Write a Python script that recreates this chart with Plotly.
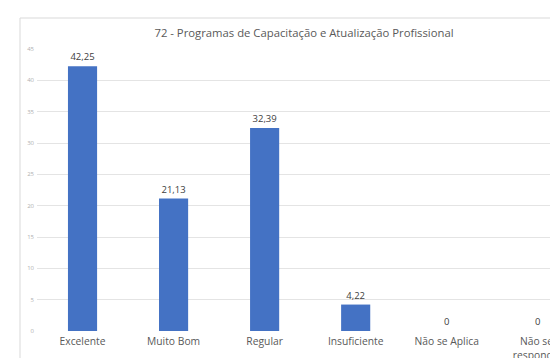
import plotly.graph_objects as go

categories = ["Excelente", "Muito Bom", "Regular", "Insuficiente", "Não se Aplica", "Não sei<br>responder"]
values = [42.25, 21.13, 32.39, 4.22, 0, 0]
y_ticks = [0, 5, 10, 15, 20, 25, 30, 35, 40, 45]
title = "72 - Programas de Capacitação e Atualização Profissional"

labels = [("%.2f" % v).replace(".", ",") if v != 0 else "0" for v in values]

fig = go.Figure()
fig.add_trace(go.Bar(
    x=list(range(len(categories))),
    y=values,
    marker=dict(color="#4472C4", line=dict(width=0)),
    text=labels,
    textposition="outside",
    cliponaxis=False,
    textfont=dict(family="Open Sans", size=9.5, color="#404040"),
    width=0.32,
))

L, T, B = 29, 41, 35
W, H = 558, 358
pw, ph = W - L, H - T - B

fig.update_layout(
    width=W, height=H,
    margin=dict(l=L, r=0, t=T, b=B),
    paper_bgcolor="white", plot_bgcolor="white",
    showlegend=False,
    title=dict(text=title, x=296/W, xanchor="center", y=1-25/H, yanchor="middle",
               font=dict(family="Open Sans", size=11.3, color="#595959")),
    xaxis=dict(
        tickmode="array", tickvals=list(range(len(categories))), ticktext=categories,
        range=[-0.5, 5.31], showgrid=False, zeroline=False, showline=False,
        tickfont=dict(family="Open Sans", size=10.3, color="#595959"),
        ticks="", ticklabelstandoff=3,
    ),
    yaxis=dict(
        range=[0, 45], tickvals=y_ticks, showgrid=True, gridcolor="#e4e4e4", gridwidth=1,
        zeroline=False, showline=False,
        tickfont=dict(family="Open Sans", size=6, color="#b0b0b0"),
        ticks="", ticklabelstandoff=2,
    ),
)

# chart frame: left and top edges (rest is cropped in the reference)
fx = (12 - L) / pw
fy = (H - B - 10) / ph
fig.add_shape(type="line", xref="paper", yref="paper",
              x0=fx, x1=fx, y0=-(B - 1) / ph, y1=fy,
              line=dict(color="#d9d9d9", width=1), layer="below")
fig.add_shape(type="line", xref="paper", yref="paper",
              x0=fx, x1=(W - 1 - L) / pw, y0=fy, y1=fy,
              line=dict(color="#d9d9d9", width=1), layer="below")

fig.write_html("out.html")
